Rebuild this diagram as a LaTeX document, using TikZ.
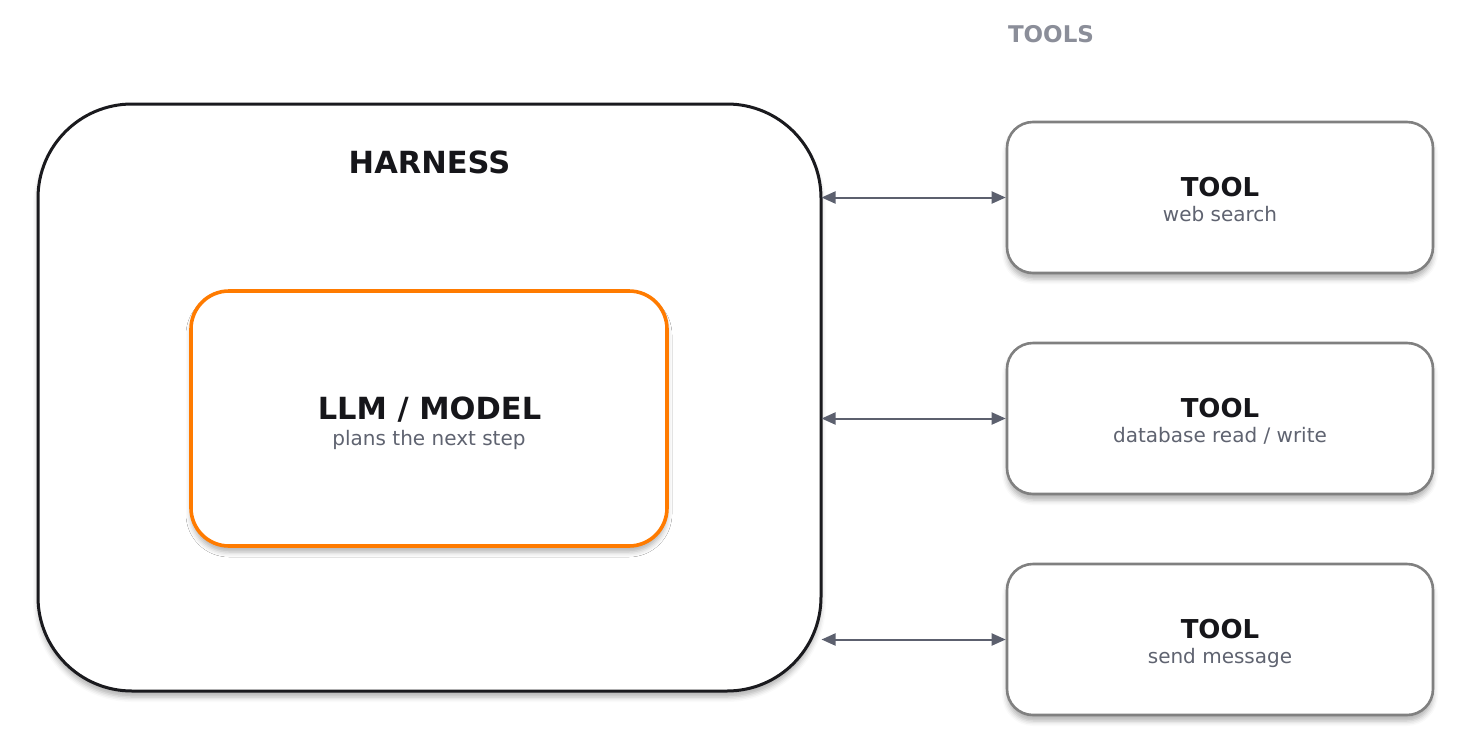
\documentclass[tikz,border=0pt]{standalone}
\usepackage{fontspec}
\setmainfont{DejaVu Sans}
\usetikzlibrary{arrows.meta,shadows.blur}
\definecolor{harnessline}{HTML}{1A1A1E}
\definecolor{orangeline}{HTML}{FF7B00}
\definecolor{toolline}{HTML}{808080}
\definecolor{arrowcol}{HTML}{5C606E}
\definecolor{subcol}{HTML}{5F6370}
\definecolor{labelcol}{HTML}{8B8E99}
\definecolor{titlecol}{HTML}{16161A}
\tikzset{
  boxshadow/.style={blur shadow={shadow xshift=0pt, shadow yshift=-6pt, shadow blur radius=5pt, shadow blur extra rounding=0pt, shadow opacity=30}},
  harnessbox/.style={draw=harnessline, line width=3pt, fill=white, rounded corners=94pt, minimum width=783pt, minimum height=587pt, boxshadow},
  llmbox/.style={draw=orangeline, line width=3.6pt, fill=white, rounded corners=38pt, minimum width=476pt, minimum height=255pt, boxshadow},
  toolbox/.style={draw=toolline, line width=2.6pt, fill=white, rounded corners=26pt, minimum width=426pt, minimum height=151pt, boxshadow},
  titletext/.style={anchor=base, text=titlecol, font=\fontsize{30.5}{36}\selectfont\bfseries, inner sep=0pt},
  tooltitle/.style={anchor=base, text=titlecol, font=\fontsize{26}{31}\selectfont\bfseries, inner sep=0pt},
  subtext/.style={anchor=base, text=subcol, font=\fontsize{20}{24}\selectfont, inner sep=0pt},
  grouplabel/.style={anchor=base, text=labelcol, font=\fontsize{23}{27}\selectfont\bfseries, inner sep=0pt},
  link/.style={draw=arrowcol, line width=2pt, shorten <=-1pt, {Triangle[length=14pt,width=12pt]}-{Triangle[length=14pt,width=12pt]}}
}
\begin{document}
\begin{tikzpicture}[x=1pt,y=-1pt]
\useasboundingbox (0,0) rectangle (1470,750);
% harness
\node[harnessbox] (harness) at (429.5,397.5) {};
\node[titletext] (harnesslabel) at (429.5,173) {HARNESS};
% LLM
\node[llmbox] (llm) at (429,418.5) {};
\node[titletext] (llmtitle) at (429.5,419) {LLM / MODEL};
\node[subtext] (llmsub) at (429,445) {plans the next step};
% tools label
\node[grouplabel] (toolslabel) at (1051,42) {TOOLS};
% tools
\node[toolbox] (t1) at (1220,197.5) {};
\node[tooltitle] (t1title) at (1220,196.5) {TOOL};
\node[subtext] (t1sub) at (1220,221) {web search};
\node[toolbox] (t2) at (1220,418.5) {};
\node[tooltitle] (t2title) at (1220,417.5) {TOOL};
\node[subtext] (t2sub) at (1220,442) {database read / write};
\node[toolbox] (t3) at (1220,639.5) {};
\node[tooltitle] (t3title) at (1220,638.5) {TOOL};
\node[subtext] (t3sub) at (1220,663) {send message};
% connectors
\draw[link] (t1.west -| harness.east) -- (t1.west);
\draw[link] (t2.west -| harness.east) -- (t2.west);
\draw[link] (t3.west -| harness.east) -- (t3.west);
\end{tikzpicture}
\end{document}
